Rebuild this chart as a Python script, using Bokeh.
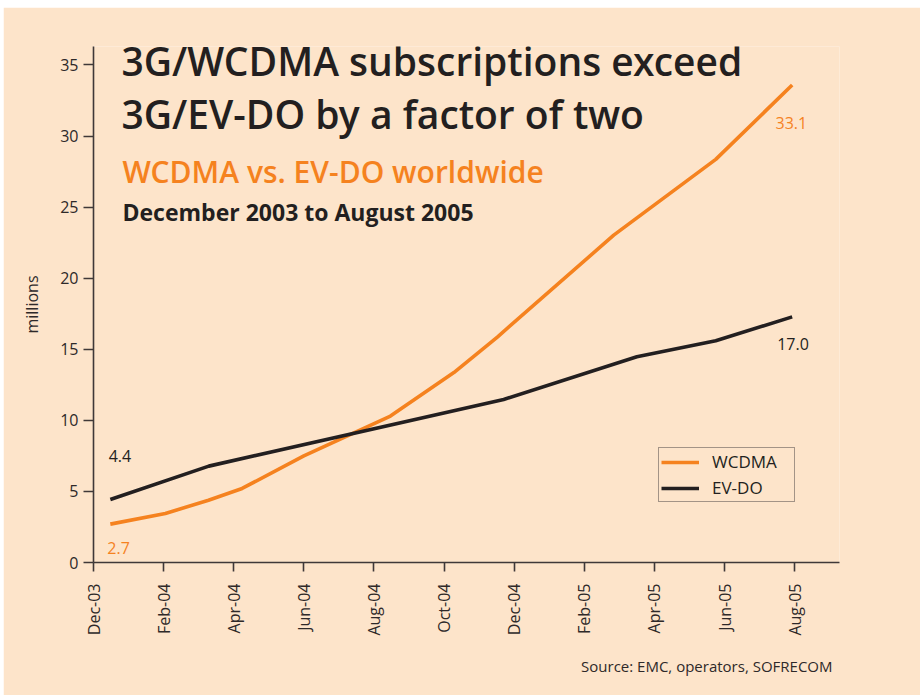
from math import pi
from bokeh.plotting import figure
from bokeh.layouts import column, row
from bokeh.models import FixedTicker, Label, Legend, LegendItem, ColumnDataSource, Spacer, Title
from bokeh.core.properties import value
from bokeh.embed import file_html
from bokeh.resources import INLINE

# ---- data (months counted from Dec-03) ----
tick_months = [0, 2, 4, 6, 8, 10, 12, 14, 16, 18, 20]
tick_labels = ["Dec-03", "Feb-04", "Apr-04", "Jun-04", "Aug-04", "Oct-04",
               "Dec-04", "Feb-05", "Apr-05", "Jun-05", "Aug-05"]

wcdma_month = [0.48, 2.05, 3.28, 4.24, 6.0, 8.47, 10.28, 11.52, 14.84, 17.75, 19.93]
wcdma_value = [2.7, 3.45, 4.38, 5.21, 7.5, 10.3, 13.36, 15.86, 23.03, 28.36, 33.59]

evdo_month = [0.48, 3.29, 11.7, 15.5, 17.75, 19.93]
evdo_value = [4.43, 6.78, 11.47, 14.47, 15.6, 17.28]

wcdma_labels = ["2.7", "33.1"]
evdo_labels = ["4.4", "17.0"]

y_ticks = [0, 5, 10, 15, 20, 25, 30, 35]

# ---- style ----
BG = "#FDE4CA"
ORANGE = "#F5821F"
DARK = "#231F20"
AXIS = "#3F3838"
TXT = "#2E2929"
FONT = "Open Sans"
SEMI = "Open Sans SemiBold, Open Sans"

p = figure(width=917, height=688, output_backend="svg", toolbar_location=None,
           x_range=(0, 21.28), y_range=(0, 36.3),
           min_border_left=90, min_border_right=81, min_border_top=39, min_border_bottom=133)
p.background_fill_color = BG
p.border_fill_color = BG
p.outline_line_color = None
p.grid.visible = False

# axes
p.xaxis.ticker = FixedTicker(ticks=tick_months)
p.xaxis.major_label_overrides = {m: l for m, l in zip(tick_months, tick_labels)}
p.xaxis.major_label_orientation = pi / 2
p.yaxis.ticker = FixedTicker(ticks=y_ticks)
for ax in (p.xaxis, p.yaxis):
    ax.axis_line_color = AXIS
    ax.axis_line_width = 1.6
    ax.major_tick_line_color = AXIS
    ax.major_tick_line_width = 1.6
    ax.major_tick_in = 0
    ax.minor_tick_line_color = None
    ax.major_label_text_font = FONT
    ax.major_label_text_font_size = "16px"
    ax.major_label_text_color = TXT
p.xaxis.major_tick_out = 9
p.xaxis.major_label_standoff = 12
p.yaxis.major_tick_out = 10
p.yaxis.major_label_standoff = 5
p.yaxis.axis_label = "millions"
p.yaxis.axis_label_text_font = FONT
p.yaxis.axis_label_text_font_size = "16px"
p.yaxis.axis_label_text_font_style = "normal"
p.yaxis.axis_label_text_color = TXT
p.yaxis.axis_label_standoff = 14

# lines
r_w = p.line(wcdma_month, wcdma_value, line_color=ORANGE, line_width=3.6, line_join="round")
r_e = p.line(evdo_month, evdo_value, line_color=DARK, line_width=3.6, line_join="round")

# value labels attached to first / last points
w_src = ColumnDataSource(dict(x=[wcdma_month[0], wcdma_month[-1]],
                              y=[wcdma_value[0], wcdma_value[-1]],
                              t=wcdma_labels, dx=[-3, -16.6], dy=[23.6, 37.9]))
e_src = ColumnDataSource(dict(x=[evdo_month[0], evdo_month[-1]],
                              y=[evdo_value[0], evdo_value[-1]],
                              t=evdo_labels, dx=[-1.7, -15], dy=[-44, 27.6]))
p.text(x="x", y="y", text="t", x_offset="dx", y_offset="dy", source=w_src,
       text_color=ORANGE, text_font=value(FONT), text_font_size="16px",
       text_baseline="alphabetic", text_align="left")
p.text(x="x", y="y", text="t", x_offset="dx", y_offset="dy", source=e_src,
       text_color=DARK, text_font=value(FONT), text_font_size="16px",
       text_baseline="alphabetic", text_align="left")

# legend
legend = Legend(items=[LegendItem(label="WCDMA", renderers=[r_w]),
                       LegendItem(label="EV-DO", renderers=[r_e])],
                location=(565, 60))
legend.background_fill_color = BG
legend.background_fill_alpha = 1
legend.border_line_color = "#4A4242"
legend.border_line_width = 1.5
legend.padding = 2
legend.margin = 0
legend.spacing = 3
legend.glyph_width = 38
legend.glyph_height = 20
legend.label_height = 20
legend.label_standoff = 13
legend.label_width = 80
legend.label_text_font = FONT
legend.label_text_font_size = "17px"
legend.label_text_color = DARK
p.add_layout(legend)

# source line under the x axis
src = Title(text="Source: EMC, operators, SOFRECOM", align="right", standoff=31,
            text_font=FONT, text_font_size="15px", text_font_style="normal",
            text_color=TXT, offset=7)
p.add_layout(src, "below")

# titles (screen units relative to the plot frame)
def add_label(text, x, y, size, color, font=FONT, style="normal"):
    p.add_layout(Label(x=x, y=y, x_units="screen", y_units="screen", text=text,
                       text_font=font, text_font_size=size, text_color=color,
                       text_font_style=style, text_align="left",
                       text_baseline="alphabetic"))

add_label("3G/WCDMA subscriptions exceed", 28, 502, "39px", DARK, font=SEMI)
add_label("3G/EV-DO by a factor of two", 28, 449, "39px", DARK, font=SEMI)
add_label("WCDMA vs. EV-DO worldwide", 29, 391, "30px", ORANGE, font=SEMI)
add_label("December 2003 to August 2005", 29, 351, "23px", DARK, style="bold")

layout = column(Spacer(height=7), row(Spacer(width=3), p))
open("out.html", "w").write(file_html(layout, INLINE))
